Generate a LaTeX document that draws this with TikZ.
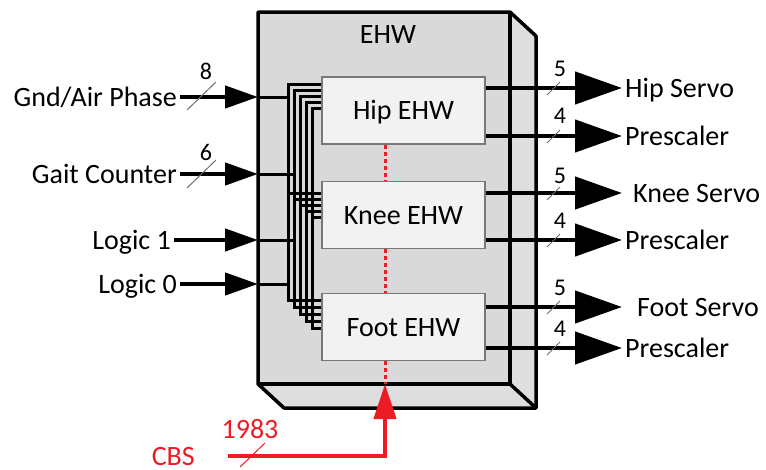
\documentclass[tikz,border=0pt]{standalone}
\usepackage{fontspec}
\setmainfont{Carlito}
\usetikzlibrary{arrows.meta,calc}
\definecolor{cbsred}{RGB}{237,28,36}
\definecolor{boxgray}{RGB}{217,217,217}
\definecolor{sidegray}{RGB}{222,222,222}
\definecolor{innerfill}{RGB}{242,242,242}
\definecolor{innerdraw}{RGB}{120,120,120}
\definecolor{slashgray}{RGB}{110,110,110}
\begin{document}
\begin{tikzpicture}[x=1pt,y=-1pt,
  lbl/.style={font=\fontsize{28}{30}\selectfont, inner sep=3pt, text height=18pt, text depth=0pt},
  num/.style={font=\fontsize{24}{26}\selectfont, inner sep=0pt},
  ebox/.style={lbl, draw=innerdraw, line width=1.5pt, fill=innerfill, minimum width=163pt, minimum height=67pt},
  inarrow/.style={line width=4.5pt, -{Triangle[length=33pt,width=22pt]}},
  outarrow/.style={line width=4.5pt, -{Triangle[length=47pt,width=32pt]}},
  busline/.style={line width=3pt},
  slashmark/.style={draw=slashgray, line width=1pt},
  redarrow/.style={draw=cbsred, line width=4.5pt, -{Triangle[length=35pt,width=22pt]}},
  reddot/.style={draw=cbsred, line width=3pt, dash pattern=on 4pt off 3pt},
  boxedge/.style={line width=3.5pt, line join=round}
]
\useasboundingbox (0,0) rectangle (766,469);

% 3D housing
\fill[boxgray] (258,12) rectangle (510,384);
\fill[sidegray] (510,12) -- (536,36) -- (536,408) -- (510,384) -- cycle;
\fill[sidegray] (258,384) -- (284,408) -- (536,408) -- (510,384) -- cycle;
\draw[boxedge] (258,12) -- (510,12) -- (536,36) -- (536,408) -- (284,408) -- (258,384) -- cycle;
\draw[boxedge] (510,12) -- (510,384) -- (258,384);
\draw[boxedge] (510,384) -- (536,408);
\node[lbl] (ehw) at (388,34) {EHW};

% inner blocks
\node[ebox] (hip)  at (403.5,110.5) {Hip EHW};
\node[ebox] (knee) at (403.5,215) {Knee EHW};
\node[ebox] (foot) at (403.5,327) {Foot EHW};

% bus wiring
\foreach \i in {0,...,4} {
  \pgfmathsetmacro\bx{288+6*\i}
  \pgfmathsetmacro\ty{84+6*\i}
  \pgfmathsetmacro\ky{193+6*\i}
  \pgfmathsetmacro\by{300+7*\i}
  \draw[busline] (hip.west |- 0,\ty) -- (\bx,\ty) -- (\bx,\by) -- (foot.west |- 0,\by);
  \draw[busline] (\bx,\ky) -- (knee.west |- 0,\ky);
}

% inputs
\coordinate (gin) at (258,97);
\coordinate (cin) at (258,174);
\coordinate (l1in) at (258,240);
\coordinate (l0in) at (258,284);
\node[lbl, anchor=east] (gnd) at (180,97) {Gnd/Air Phase};
\node[lbl, anchor=east] (gait) at (180,174) {Gait Counter};
\node[lbl, anchor=east] (log1) at (174,240) {Logic 1};
\node[lbl, anchor=east] (log0) at (180,284) {Logic 0};
\draw[inarrow] (gnd.east) -- (gin);
\draw[inarrow] (gait.east) -- (cin);
\draw[inarrow] (log1.east) -- (l1in);
\draw[inarrow] (log0.east) -- (l0in);
\draw[busline] (gin) -- (288,97);
\draw[busline] (cin) -- (294,174);
\draw[busline] (l1in) -- (294,240);
\draw[busline] (l0in) -- (288,284);
\draw[slashmark] (187,110) -- (216,82);
\draw[slashmark] (187,188) -- (216,160);
\node[num] (n8) at (206,71) {8};
\node[num] (n6) at (206,152) {6};

% outputs
\node[lbl, anchor=west] (hips) at (622,88) {Hip Servo};
\node[lbl, anchor=west] (hipp) at (622,136) {Prescaler};
\node[lbl, anchor=west] (knees) at (630,193) {Knee Servo};
\node[lbl, anchor=west] (kneep) at (622,240) {Prescaler};
\node[lbl, anchor=west] (foots) at (634,307) {Foot Servo};
\node[lbl, anchor=west] (footp) at (622,348) {Prescaler};
\draw[outarrow] (hip.east |- hips.west) -- (hips.west);
\draw[outarrow] (hip.east |- hipp.west) -- (hipp.west);
\draw[outarrow] (knee.east |- knees.west) -- ([xshift=-8pt]knees.west);
\draw[outarrow] (knee.east |- kneep.west) -- (kneep.west);
\draw[outarrow] (foot.east |- foots.west) -- ([xshift=-12pt]foots.west);
\draw[outarrow] (foot.east |- footp.west) -- (footp.west);
\foreach \yy in {88,136,193,240,307,348} {
  \draw[slashmark] (547,\yy+7) -- (560,\yy-6);
}
\node[num] (o1) at (560,69) {5};
\node[num] (o2) at (560,116) {4};
\node[num] (o3) at (560,176) {5};
\node[num] (o4) at (560,221) {4};
\node[num] (o5) at (560,288) {5};
\node[num] (o6) at (560,329) {4};

% CBS
\coordinate (redx) at (385,0);
\coordinate (cbsin) at (385,384);
\coordinate (cbsturn) at (385,456);
\node[lbl, anchor=east, text=cbsred] (cbs) at (198,456) {CBS};
\draw[reddot] (hip.south -| redx) -- (knee.north -| redx);
\draw[reddot] (knee.south -| redx) -- (foot.north -| redx);
\draw[reddot] (foot.south -| redx) -- (cbsin);
\draw[redarrow] ([xshift=30pt]cbs.east) -- (cbsturn) -- (cbsin);
\draw[draw=cbsred, line width=1pt] (240,467) -- (265,443);
\node[lbl, text=cbsred, inner sep=0pt] (n1983) at (250,429) {1983};
\end{tikzpicture}
\end{document}
